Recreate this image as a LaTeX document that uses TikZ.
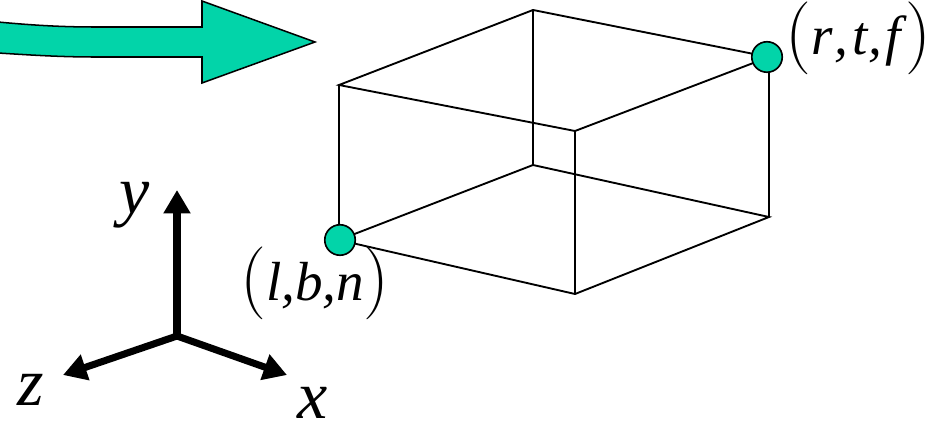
\documentclass[tikz,border=0pt]{standalone}
\usepackage{fontspec}
\setmainfont{Liberation Serif}[ItalicFont={Liberation Serif Italic}]
\usepackage{tikz}
\usetikzlibrary{arrows.meta,positioning}
\usepackage{xcolor}
\definecolor{ink}{HTML}{000000}
\definecolor{mint}{HTML}{02D4A9}
\newcommand{\varfont}{\fontsize{47}{47}\selectfont\itshape}
\newcommand{\axisfont}{\fontsize{58}{58}\selectfont\itshape}
\newcommand{\lpar}{\raisebox{-1.5pt}{\scalebox{2.5}{$\Bigl($}}}
\newcommand{\rpar}{\raisebox{-1.5pt}{\scalebox{2.5}{$\Bigr)$}}}
\tikzset{boxedge/.style={draw=ink,line width=1.6pt,line cap=round},cornerdot/.style={circle,draw=ink,fill=mint,line width=1.4pt,minimum size=26pt,inner sep=0pt},bigarrow/.style={draw=ink,fill=mint,line width=1.3pt,line join=miter},axisline/.style={draw=ink,line width=6pt,-{Triangle[length=20pt,width=22pt]}},coordlabel/.style={inner sep=0pt,font=\varfont,anchor=base west},axislabel/.style={inner sep=0pt,font=\axisfont,anchor=base west}}
\begin{document}
\begin{tikzpicture}[x=.03cm,y=-.03cm]
\useasboundingbox (0,0) rectangle (930,426);
% big arrow
\draw[bigarrow] (-2,22) .. controls (30,25) and (60,27) .. (95,27) -- (202,27) -- (202,1) -- (315,42) -- (202,83) -- (202,57) -- (95,57) .. controls (60,57) and (30,55) .. (-2,53);
% box corners
\coordinate (lbn) at (339,240);
\coordinate (lbf) at (533,165);
\coordinate (rbn) at (575,294);
\coordinate (rbf) at (769,217);
\coordinate (ltn) at (339,85);
\coordinate (ltf) at (533,10);
\coordinate (rtn) at (575,131);
\coordinate (rtf) at (769,57);
\draw[boxedge] (ltn) -- (ltf) -- (rtf) -- (rtn) -- cycle;
\draw[boxedge] (lbn) -- (lbf) -- (rbf) -- (rbn) -- cycle;
\foreach \a/\b in {ltn/lbn,ltf/lbf,rtn/rbn,rtf/rbf}{
 \draw[boxedge] (\a) -- (\b);
}
\node[cornerdot] (near) at (340,240) {};
\node[cornerdot] (far) at (767,57) {};
\node[coordlabel] (nearlabel) at (240,300) {\lpar l,b,n\rpar};
\node[coordlabel] (farlabel) at (785,55) {\lpar r\kern2pt,\kern3pt t\kern1pt,\kern3pt f\kern4pt\rpar};
% axes
\coordinate (origin) at (177,336);
\coordinate (ytip) at (177,190);
\coordinate (ztip) at (63,375);
\coordinate (xtip) at (287,375);
\foreach \t in {ytip,ztip,xtip}{
 \draw[axisline] (origin) -- (\t);
}
\node[axislabel] (ylabel) at (119,213) {y};
\node[axislabel] (zlabel) at (17,405) {z};
\node[axislabel] (xlabel) at (297,418) {x};
\end{tikzpicture}
\end{document}
